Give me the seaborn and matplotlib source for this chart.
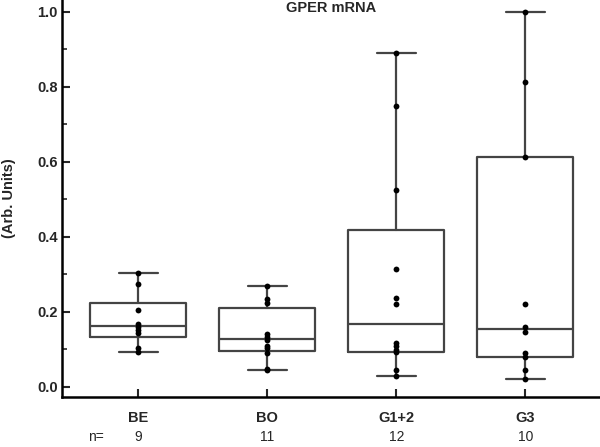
import numpy as np
import pandas as pd
import matplotlib
matplotlib.use("Agg")
import matplotlib.pyplot as plt
import seaborn as sns

# values
grupos = ['BE', 'BO', 'G1+2', 'G3']
be = [0.302, 0.274, 0.203, 0.167, 0.160, 0.151, 0.144, 0.102, 0.091]
bo = [0.2685, 0.234, 0.224, 0.1405, 0.132, 0.1245, 0.1085, 0.102, 0.089, 0.047, 0.043]
g12 = [0.889, 0.747, 0.523, 0.313, 0.237, 0.220, 0.117, 0.1085, 0.098, 0.093, 0.0445, 0.029]
g3 = [1.0, 0.813, 0.611, 0.220, 0.160, 0.145, 0.089, 0.080, 0.0445, 0.021]

# box statistics as drawn in the reference
q1 = [0.132, 0.096, 0.093, 0.080]
mediana = [0.162, 0.126, 0.167, 0.153]
q3 = [0.222, 0.209, 0.418, 0.611]
whis_lo = [0.091, 0.043, 0.029, 0.021]
whis_hi = [0.302, 0.2685, 0.889, 1.0]

valores = [be, bo, g12, g3]
dados = pd.DataFrame({
    'grupo': np.repeat(grupos, [len(v) for v in valores]),
    'valor': np.concatenate(valores),
})

sns.set_style("ticks")
plt.rcParams['font.family'] = ['Liberation Sans', 'DejaVu Sans']

fig = plt.figure(figsize=(6, 4.47), dpi=100)
ax = fig.add_axes([0.103, 0.1125, 0.897, 0.8875])

stats = []
for i, g in enumerate(grupos):
    stats.append({'label': g, 'q1': q1[i], 'med': mediana[i], 'q3': q3[i],
                  'whislo': whis_lo[i], 'whishi': whis_hi[i], 'fliers': []})

cinza = '#444444'
ax.bxp(stats, positions=range(len(grupos)), widths=0.745, capwidths=0.3,
       showfliers=False, manage_ticks=False, patch_artist=False,
       boxprops=dict(color=cinza, linewidth=1.6),
       medianprops=dict(color=cinza, linewidth=1.6),
       whiskerprops=dict(color=cinza, linewidth=1.6),
       capprops=dict(color=cinza, linewidth=1.6), zorder=2)

sns.stripplot(data=dados, x='grupo', y='valor', order=grupos, jitter=False,
              color='black', size=4.2, ax=ax, zorder=3)

ax.set_xlim(-0.593, 3.578)
ax.set_ylim(-0.027, 1.031)
ax.set_yticks(np.arange(0, 1.01, 0.2))
ax.set_yticks(np.arange(0.1, 1.0, 0.2), minor=True)
ax.set_yticklabels([f'{v:.1f}' for v in np.arange(0, 1.01, 0.2)],
                   fontweight='bold', fontsize=10.5)
ax.set_xticks(range(len(grupos)))
ax.set_xticklabels(grupos, fontweight='bold', fontsize=10.5)

ax.tick_params(axis='y', which='major', direction='in', length=6, width=1.5, pad=3)
ax.tick_params(axis='y', which='minor', direction='in', length=3.5, width=1.2)
ax.tick_params(axis='x', which='major', direction='in', length=6, width=1.5, pad=10)

for s in ['top', 'right']:
    ax.spines[s].set_visible(False)
for s in ['left', 'bottom']:
    ax.spines[s].set_linewidth(1.8)
    ax.spines[s].set_color('black')

ax.set_xlabel('')
ax.set_ylabel('(Arb. Units)', fontweight='bold', fontsize=10.5, labelpad=10)
ax.yaxis.set_label_coords(-0.085, 0.5)

fig.text(331 / 600, 1 - 8 / 447, 'GPER mRNA', ha='center', va='center',
         fontweight='bold', fontsize=10.5)

# n= row
fig.text(96 / 600, 1 - 437 / 447, 'n=', ha='center', va='center', fontsize=10)
for i, v in enumerate(valores):
    ax.text(i, -0.102, str(len(v)), transform=ax.get_xaxis_transform(),
            ha='center', va='center', fontsize=10)

fig.savefig('out.png', dpi=100)
